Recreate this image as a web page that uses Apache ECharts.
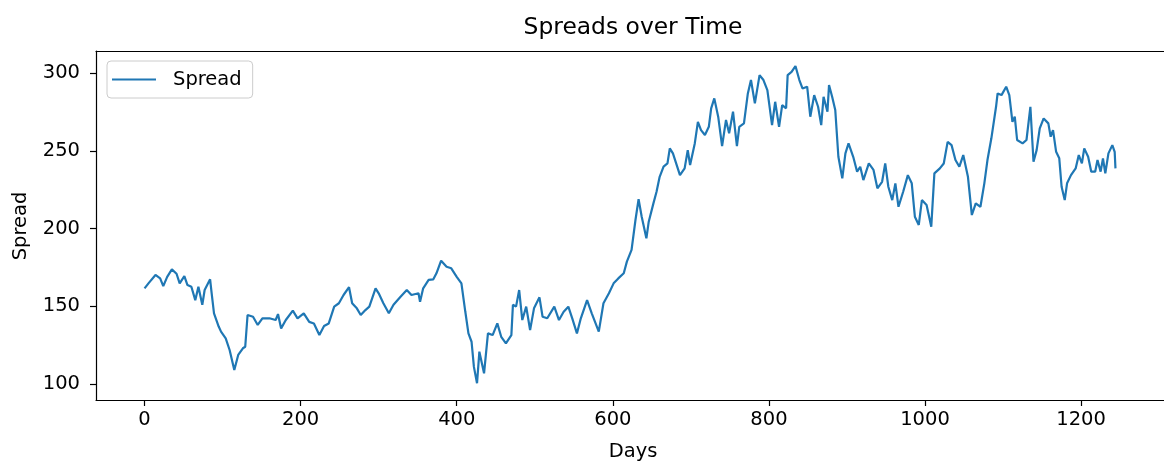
<!DOCTYPE html>
<html>
<head>
<meta charset="utf-8">
<title>Spreads over Time</title>
<script src="https://cdn.jsdelivr.net/npm/echarts@6/dist/echarts.min.js"></script>
<style>
  html, body { margin: 0; padding: 0; background: #ffffff; }
  #chart { width: 1164px; height: 461px; }
</style>
</head>
<body>
<div id="chart"></div>
<script>
// Day index of each sample along the series
const days = [
  0, 5, 14, 20, 24, 29, 35, 41, 45, 51, 55, 60, 65, 69, 74, 77, 84, 86, 89, 95,
  98, 104, 109, 115, 120, 126, 129, 132, 139, 145, 151, 160, 168, 171, 175, 181, 190, 196, 204, 211,
  217, 224, 230, 236, 243, 249, 255, 262, 266, 272, 277, 283, 288, 296,
  300, 306, 313, 319, 328, 336, 342, 351, 353, 357, 364, 370, 374, 380, 387, 393,
  400, 406, 411, 415, 419, 422, 426, 429, 435, 440, 446, 452, 457, 463, 470, 472, 476, 480, 484, 489,
  494, 499, 506, 510, 516, 525, 531, 537, 543, 548, 554, 559, 567, 573, 582, 588, 595, 601, 607, 614,
  618, 624, 629, 633, 637, 643, 646, 652, 656, 660, 665, 670, 673, 677,
  686, 692, 696, 699, 705, 709, 713, 718, 723, 726, 730, 735, 740, 745, 749, 754, 759, 762, 768, 773,
  777, 782, 788, 793, 798, 804, 808, 813, 817, 822, 824, 829, 834, 839, 843, 849, 853, 858, 863, 867,
  870, 875, 877, 881, 885, 889, 894, 898, 902, 908, 913, 917, 921, 928, 934, 939, 945, 949, 953, 958,
  962, 966, 972, 978, 983, 987, 992, 996, 1002, 1008, 1012, 1019, 1024, 1029, 1034, 1039, 1044, 1049, 1055, 1060,
  1065, 1071, 1076, 1080, 1085, 1091, 1093, 1098, 1104, 1108, 1112, 1115, 1118, 1125, 1130, 1135, 1139, 1143, 1147, 1152,
  1158, 1161, 1164, 1168, 1172, 1175, 1179, 1182, 1187, 1193, 1197, 1201, 1204, 1209, 1213, 1218, 1221, 1225, 1228, 1231,
  1235, 1240, 1243, 1244
];

// Spread value on each of those days
const spread = [
  161.6, 164.8, 170.2, 168.0, 163.0, 169.0, 173.8, 171.0, 164.8, 169.5, 163.7, 162.6, 154.0, 162.6, 151.0, 160.5, 167.4, 158.4, 145.5, 137.0,
  133.7, 129.4, 121.9, 109.0, 118.7, 123.0, 124.0, 144.4, 143.3, 138.0, 142.3, 142.3, 141.2, 145.0, 135.8, 141.2, 147.2, 142.3, 145.5, 140.0,
  139.0, 131.5, 137.3, 139.0, 149.8, 152.0, 157.3, 162.3, 152.0, 148.7, 144.4, 147.6, 149.8, 161.6,
  158.4, 152.0, 145.5, 151.0, 156.2, 160.5, 157.3, 158.4, 153.0, 161.6, 167.0, 167.4, 171.3, 179.4, 175.5, 174.5,
  169.0, 164.8, 146.5, 132.6, 127.2, 111.0, 100.5, 120.8, 106.9, 132.6, 131.5, 139.0, 130.4, 126.2, 131.5, 151.0, 149.8, 160.5, 141.2, 149.8,
  134.8, 148.7, 155.8, 143.3, 142.3, 149.8, 141.2, 146.5, 149.8, 142.3, 132.6, 142.3, 154.0, 145.5, 133.7, 152.0, 158.4, 164.8, 168.0, 171.3,
  178.8, 186.3, 205.6, 219.0, 207.7, 193.8, 204.5, 216.3, 223.8, 233.4, 239.9, 242.0, 251.7, 248.5,
  234.5, 238.8, 250.6, 241.0, 254.9, 268.8, 263.5, 260.3, 265.6, 277.5, 283.9, 272.1, 253.2, 270.0, 261.4, 275.3, 253.2, 265.6, 267.8, 287.1,
  295.7, 280.7, 298.9, 295.7, 289.2, 266.7, 281.7, 265.6, 279.6, 277.5, 298.9, 301.0, 304.7, 295.7, 290.3, 291.4, 272.1, 286.0, 278.5, 266.7,
  284.9, 275.3, 292.5, 284.9, 276.4, 246.3, 232.4, 248.5, 254.9, 246.3, 236.7, 239.9, 231.3, 242.0, 237.8, 226.0, 230.2, 242.0, 227.0, 218.4,
  229.2, 214.1, 223.8, 234.5, 229.2, 207.7, 202.4, 218.4, 215.2, 201.3, 235.6, 238.8, 242.0, 255.9, 253.8, 244.2, 239.9, 247.4, 233.4, 208.8,
  216.3, 214.1, 229.2, 244.2, 258.2, 278.5, 287.1, 286.0, 291.4, 286.0, 268.8, 272.1, 257.1, 254.9, 257.1, 278.5, 243.1, 250.6, 264.6, 271.0,
  267.8, 259.2, 263.5, 249.5, 245.3, 227.0, 218.4, 229.2, 234.5, 238.8, 247.4, 242.0, 251.7, 246.3, 236.7, 236.7, 244.2, 236.7, 245.3, 235.6,
  248.5, 253.8, 249.5, 238.8
];

// Tick positions shown on each axis
const xTicks = [0, 200, 400, 600, 800, 1000, 1200];
const yTicks = [100, 150, 200, 250, 300];

const FONT = '"DejaVu Sans", sans-serif';
const points = days.map((d, i) => [d, spread[i]]);

const chart = echarts.init(document.getElementById('chart'), null, { renderer: 'canvas' });

const axisLine = { show: true, onZero: false, lineStyle: { color: '#000', width: 1.2 } };
const axisTick = { show: true, inside: false, length: 6, lineStyle: { color: '#000', width: 1.2 } };
const plain = (v) => String(v);

chart.setOption({
  animation: false,
  backgroundColor: '#ffffff',
  grid: { left: 96, top: 51, width: 1075, height: 349, containLabel: false },
  xAxis: [
    {
      type: 'value',
      min: -62.2,
      max: 1306.2,
      axisLine: axisLine,
      axisTick: Object.assign({ customValues: xTicks }, axisTick),
      axisLabel: { customValues: xTicks, formatter: plain, color: '#000', fontFamily: FONT, fontSize: 19.5, margin: 10 },
      splitLine: { show: false }
    },
    {
      type: 'value',
      position: 'top',
      min: -62.2,
      max: 1306.2,
      axisLine: axisLine,
      axisTick: { show: false },
      axisLabel: { show: false },
      splitLine: { show: false }
    }
  ],
  yAxis: {
    type: 'value',
    min: 89.7,
    max: 314.4,
    axisLine: axisLine,
    axisTick: Object.assign({ customValues: yTicks }, axisTick),
    axisLabel: { customValues: yTicks, formatter: plain, color: '#000', fontFamily: FONT, fontSize: 19.5, margin: 16 },
    splitLine: { show: false }
  },
  legend: {
    show: true,
    left: 107,
    top: 61,
    orient: 'vertical',
    padding: [7, 11, 7, 5],
    icon: 'rect',
    itemWidth: 44,
    itemHeight: 2.2,
    itemGap: 0,
    borderColor: '#cccccc',
    borderWidth: 1,
    borderRadius: 4,
    backgroundColor: 'rgba(255,255,255,0.8)',
    textStyle: { color: '#000', fontFamily: FONT, fontSize: 19.5, padding: [0, 0, 0, 12], lineHeight: 23 },
    data: [{ name: 'Spread' }]
  },
  series: [
    {
      name: 'Spread',
      type: 'line',
      data: points,
      symbol: 'none',
      showSymbol: false,
      smooth: false,
      lineStyle: { color: '#1f77b4', width: 2.2 },
      itemStyle: { color: '#1f77b4' },
      clip: true
    }
  ],
  graphic: [
    {
      type: 'text',
      x: 633,
      y: 28,
      style: { text: 'Spreads over Time', fill: '#000', font: '23.4px ' + FONT, align: 'center', verticalAlign: 'middle' }
    },
    {
      type: 'text',
      x: 633,
      y: 452,
      style: { text: 'Days', fill: '#000', font: '19.5px ' + FONT, align: 'center', verticalAlign: 'middle' }
    },
    {
      type: 'text',
      x: 21,
      y: 226,
      rotation: Math.PI / 2,
      style: { text: 'Spread', fill: '#000', font: '19.5px ' + FONT, align: 'center', verticalAlign: 'middle' }
    }
  ]
});
</script>
</body>
</html>
